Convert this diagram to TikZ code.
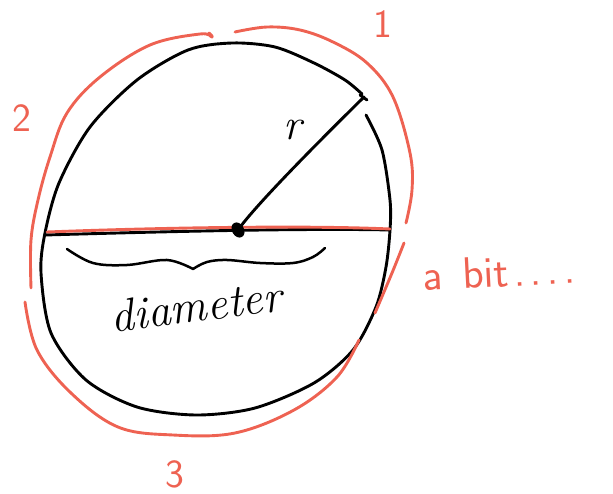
\documentclass[tikz,border=0pt]{standalone}
\usepackage{tikz}
\usetikzlibrary{calc}
\definecolor{lapiz}{RGB}{238,98,82}

\begin{document}
\begin{tikzpicture}[x=1pt,y=-1pt,line width=2.9pt,line cap=round,line join=round]
  \useasboundingbox (0,0) rectangle (613,494);
  \coordinate (C) at (238,230);             % centro
  \coordinate (Rr) at (364,97);             % extremo del radio
  \coordinate (Dl) at (45,235);             % diametro, izquierda
  \coordinate (Dr) at (390,230);            % diametro, derecha
  % circulo a mano (abierto junto al radio)
  \draw plot[smooth,tension=0.5] coordinates {(366,115) (382,150) (390,200) (390,230)
    (386,267) (376,307) (353,350) (314,383) (255,408) (196,415) (137,407) (86,380)
    (51,333) (41,273) (45,233) (59,183) (90,127) (137,80) (188,50) (232,43) (275,47)
    (314,63) (345,80) (362,94)};
  \draw (Dl) .. controls (150,232) and (300,228) .. (Dr);
  \draw[lapiz] ($(Dl)+(2,-3)$) .. controls (150,228) and (300,225) .. ($(Dr)+(0,-1)$);
  \draw (C) .. controls (252,210) and (300,160) .. (Rr);
  \draw (360,95)--(367,100);
  \fill[rotate around={-60:(C)}] (C) ellipse[x radius=8pt,y radius=6pt];
  \node (r) at (293,130) {\fontsize{44}{48}\selectfont\itshape r};
  % llave
  \draw[line width=2.5pt] plot[smooth,tension=0.6] coordinates {(67,249) (93,263) (127,265) (167,260) (193,269)};
  \draw[line width=2.5pt] plot[smooth,tension=0.6] coordinates {(193,269) (207,262) (227,260) (260,263) (293,263) (313,257) (325,248)};
  \node[rotate=7] (dia) at (196,306) {\fontsize{46}{50}\selectfont\itshape diameter};
  % arcos rojos
  \begin{scope}[lapiz]
    \draw plot[smooth,tension=0.6] coordinates {(235,32) (267,27) (300,30) (333,42) (367,63) (393,97) (410,153) (412,190) (406,223)};
    \draw plot[smooth,tension=0.6] coordinates {(209,33) (212,37) (200,34) (150,45) (100,77) (67,113) (50,157) (38,200) (31,240) (31,288)};
    \draw plot[smooth,tension=0.6] coordinates {(25,302) (37,350) (71,393) (118,427) (173,435) (235,433) (294,410) (337,377) (359,340)};
    \draw plot[smooth,tension=0.6] coordinates {(404,243) (392,273) (375,313)};
    \node (n1) at (383,24) {\fontsize{40}{44}\selectfont\sffamily 1};
    \node (n2) at (22,118) {\fontsize{40}{44}\selectfont\sffamily 2};
    \node (n3) at (175,474) {\fontsize{40}{44}\selectfont\sffamily 3};
    \node[anchor=west,rotate=3] (bit) at (418,276) {\fontsize{44}{48}\selectfont\sffamily a\kern0.15em\ bit\kern0.1em.\kern0.12em.\kern0.12em.\kern0.12em.};
  \end{scope}
\end{tikzpicture}
\end{document}
